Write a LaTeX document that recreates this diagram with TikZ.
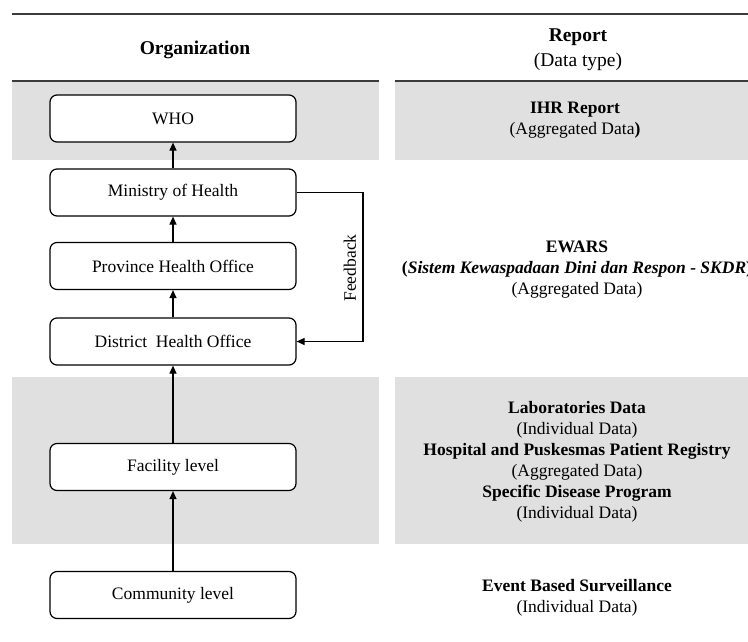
\documentclass[tikz,border=0pt]{standalone}
\usepackage{fontspec}
\setmainfont{Liberation Serif}
\usetikzlibrary{arrows.meta}
\definecolor{bandgray}{RGB}{224,224,224}
\definecolor{rulegray}{RGB}{60,60,60}
\begin{document}
\begin{tikzpicture}[x=1pt,y=-1pt,
  orgbox/.style={draw=black, line width=1.2pt, rounded corners=7pt, fill=white,
    minimum width=246pt, minimum height=47pt, inner sep=0pt,
    font=\fontsize{17.5}{21}\selectfont},
  txt/.style={align=center, inner sep=0pt, font=\fontsize{17.5}{21}\selectfont},
  hdr/.style={align=center, inner sep=0pt, font=\fontsize{19.5}{25}\selectfont},
  band/.style={fill=bandgray, draw=none},
  rulel/.style={draw=rulegray, line width=1.4pt},
  flow/.style={draw=black, line width=1.2pt, -{Triangle[length=8pt,width=7pt]}}]
\useasboundingbox (0,0) rectangle (748,642);
% bands
\fill[band] (12,81) rectangle (379,160);
\fill[band] (395,81) rectangle (748,160);
\fill[band] (12,377) rectangle (379,544);
\fill[band] (395,377) rectangle (748,544);
% rules
\draw[rulel] (12,14) -- (748,14);
\draw[rulel] (12,81) -- (379,81);
\draw[rulel] (395,81) -- (748,81);
% headers
\node[hdr] (horg) at (195,50) {\textbf{Organization}};
\node[hdr] (hrep) at (578,50) {\textbf{Report}\\(Data type)};
% boxes
\node[orgbox] (who) at (173,118.5) {WHO};
\node[orgbox] (moh) at (173,192.5) {Ministry of Health};
\node[orgbox] (pho) at (173,266) {Province Health Office};
\node[orgbox] (dho) at (173,341.5) {District~ Health Office};
\node[orgbox] (fac) at (173,467) {Facility level};
\node[orgbox] (com) at (173,595) {Community level};
% arrows
\draw[flow] (moh.north) -- (who.south);
\draw[flow] (pho.north) -- (moh.south);
\draw[flow] (dho.north) -- (pho.south);
\draw[flow] (fac.north) -- (dho.south);
\draw[flow] (com.north) -- (fac.south);
% feedback
\coordinate (fbtop) at (363,192.5);
\coordinate (fbbot) at (363,341.5);
\draw[flow] (moh.east) -- (fbtop) -- (fbbot) -- (dho.east);
\node[txt, rotate=90] (fb) at (350,268) {Feedback};
% right column
\node[txt] (ihr) at (575,120) {\textbf{IHR Report}\\(Aggregated Data\textbf{)}};
\node[txt] (ewars) at (577,270) {\textbf{EWARS}\\\textbf{(\textit{Sistem Kewaspadaan Dini dan Respon - SKDR})}\\(Aggregated Data)};
\node[txt] (lab) at (577,462) {\textbf{Laboratories Data}\\(Individual Data)\\\textbf{Hospital and Puskesmas Patient Registry}\\(Aggregated Data)\\\textbf{Specific Disease Program}\\(Individual Data)};
\node[txt] (ebs) at (577,598) {\textbf{Event Based Surveillance}\\(Individual Data)};
\end{tikzpicture}
\end{document}
